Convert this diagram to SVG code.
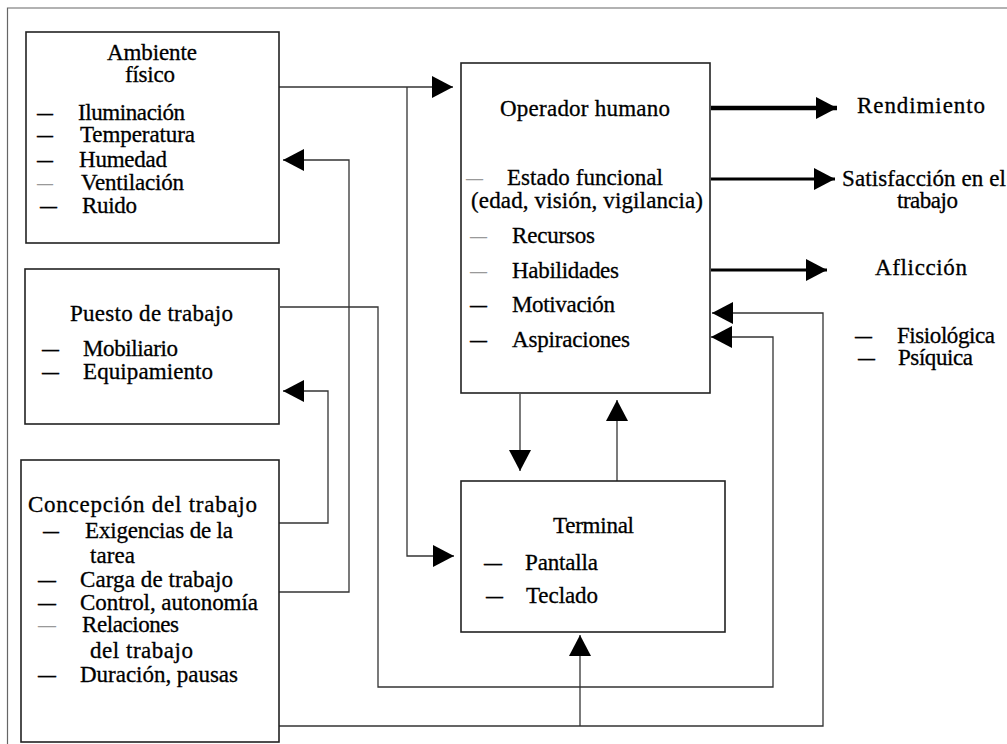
<svg xmlns="http://www.w3.org/2000/svg" width="1007" height="744" viewBox="0 0 1007 744">
  <defs>
    <marker id="head" markerUnits="userSpaceOnUse" viewBox="0 0 21 22" markerWidth="21" markerHeight="22" refX="21" refY="11" orient="auto">
      <path d="M0,0 L21,11 L0,22 Z" fill="#000"/>
    </marker>
    <style>
      text { font-family: "Liberation Serif", "Times New Roman", serif; font-size: 23px; fill: #000; stroke: #000; stroke-width: 0.3; }
      .box { fill: #fff; stroke: #222; stroke-width: 1.6; }
      .wire { fill: none; stroke: #333; stroke-width: 1.3; }
      .out { fill: none; stroke: #000; stroke-width: 3; }
      .thick { stroke-width: 4.5; }
      .frame { fill: none; stroke: #666; stroke-width: 1.2; }
      .light { fill: #999; stroke: none; }
    </style>
  </defs>

  <rect width="1007" height="744" fill="#fff"/>

  <!-- page frame -->
  <path class="frame" d="M7.5,744 V8 H1007"/>

  <!-- connectors -->
  <g id="connectors">
    <path class="wire" d="M279,87 H453" marker-end="url(#head)"/>
    <path class="wire" d="M407,87 V556 H454" marker-end="url(#head)"/>
    <path class="wire" d="M279,592 H349 V160 H283" marker-end="url(#head)"/>
    <path class="wire" d="M279,523 H328 V391 H283" marker-end="url(#head)"/>
    <path class="wire" d="M280,307 H378 V687 H773 V337 H711" marker-end="url(#head)"/>
    <path class="wire" d="M279,726 H823 V313 H712" marker-end="url(#head)"/>
    <path class="wire" d="M580,726 V635" marker-end="url(#head)"/>
    <path class="wire" d="M520,394 V471" marker-end="url(#head)"/>
    <path class="wire" d="M617,481 V400" marker-end="url(#head)"/>
    <path class="out thick" d="M711,108 H837" marker-end="url(#head)"/>
    <path class="out" d="M711,179 H835" marker-end="url(#head)"/>
    <path class="out" d="M711,270 H827" marker-end="url(#head)"/>
  </g>

  <!-- physical environment -->
  <g id="ambiente">
    <rect class="box" x="26" y="32" width="253" height="211"/>
    <text x="107" y="60" textLength="90">Ambiente</text>
    <text x="125" y="82" textLength="50">físico</text>
    <text x="37" y="120" textLength="16" lengthAdjust="spacingAndGlyphs">—</text>
    <text x="78" y="120" textLength="107">Iluminación</text>
    <text x="37" y="142" textLength="16" lengthAdjust="spacingAndGlyphs">—</text>
    <text x="80" y="142" textLength="115">Temperatura</text>
    <text x="37" y="167" textLength="16" lengthAdjust="spacingAndGlyphs">—</text>
    <text x="79" y="167" textLength="88">Humedad</text>
    <text class="light" x="37" y="190" textLength="16" lengthAdjust="spacingAndGlyphs">—</text>
    <text x="81" y="190" textLength="103">Ventilación</text>
    <text x="40" y="213" textLength="17" lengthAdjust="spacingAndGlyphs">—</text>
    <text x="82" y="213" textLength="55">Ruido</text>
  </g>

  <!-- workstation -->
  <g id="puesto">
    <rect class="box" x="25" y="269" width="254" height="155"/>
    <text x="70" y="321" textLength="163">Puesto de trabajo</text>
    <text x="42" y="356" textLength="17" lengthAdjust="spacingAndGlyphs">—</text>
    <text x="83" y="356" textLength="95">Mobiliario</text>
    <text x="42" y="379" textLength="17" lengthAdjust="spacingAndGlyphs">—</text>
    <text x="83" y="379" textLength="130">Equipamiento</text>
  </g>

  <!-- job design -->
  <g id="concepcion">
    <rect class="box" x="21" y="460" width="258" height="282"/>
    <text x="28" y="512" textLength="229">Concepción del trabajo</text>
    <text x="43" y="538" textLength="16" lengthAdjust="spacingAndGlyphs">—</text>
    <text x="85" y="538" textLength="148">Exigencias de la</text>
    <text x="90" y="563" textLength="45">tarea</text>
    <text x="38" y="587" textLength="18" lengthAdjust="spacingAndGlyphs">—</text>
    <text x="80" y="587" textLength="153">Carga de trabajo</text>
    <text x="38" y="610" textLength="18" lengthAdjust="spacingAndGlyphs">—</text>
    <text x="80" y="610" textLength="178">Control, autonomía</text>
    <text class="light" x="38" y="632" textLength="18" lengthAdjust="spacingAndGlyphs">—</text>
    <text x="82" y="632" textLength="97">Relaciones</text>
    <text x="90" y="658" textLength="103">del trabajo</text>
    <text x="38" y="682" textLength="18" lengthAdjust="spacingAndGlyphs">—</text>
    <text x="80" y="682" textLength="158">Duración, pausas</text>
  </g>

  <!-- human operator -->
  <g id="operador">
    <rect class="box" x="461" y="63" width="249" height="330"/>
    <text x="500" y="116" textLength="170">Operador humano</text>
    <text class="light" x="466" y="185" textLength="17" lengthAdjust="spacingAndGlyphs">—</text>
    <text x="507" y="185" textLength="156">Estado funcional</text>
    <text x="471" y="208" textLength="232">(edad, visión, vigilancia)</text>
    <text class="light" x="470" y="243" textLength="17" lengthAdjust="spacingAndGlyphs">—</text>
    <text x="512" y="243" textLength="83">Recursos</text>
    <text class="light" x="470" y="278" textLength="17" lengthAdjust="spacingAndGlyphs">—</text>
    <text x="512" y="278" textLength="107">Habilidades</text>
    <text x="470" y="312" textLength="17" lengthAdjust="spacingAndGlyphs">—</text>
    <text x="512" y="312" textLength="103">Motivación</text>
    <text x="470" y="347" textLength="17" lengthAdjust="spacingAndGlyphs">—</text>
    <text x="512" y="347" textLength="118">Aspiraciones</text>
  </g>

  <!-- terminal -->
  <g id="terminal">
    <rect class="box" x="461" y="481" width="264" height="151"/>
    <text x="553" y="533" textLength="81">Terminal</text>
    <text x="484" y="570" textLength="18" lengthAdjust="spacingAndGlyphs">—</text>
    <text x="525" y="570" textLength="73">Pantalla</text>
    <text x="486" y="603" textLength="17" lengthAdjust="spacingAndGlyphs">—</text>
    <text x="526" y="603" textLength="72">Teclado</text>
  </g>

  <!-- outcomes -->
  <g id="rendimiento">
    <text x="857" y="113" textLength="128">Rendimiento</text>
  </g>
  <g id="satisfaccion">
    <text x="842" y="186" textLength="164">Satisfacción en el</text>
    <text x="897" y="208" textLength="61">trabajo</text>
  </g>
  <g id="afliccion">
    <text x="875" y="275" textLength="92">Aflicción</text>
  </g>
  <g id="tipos-afliccion">
    <text x="855" y="343" textLength="17" lengthAdjust="spacingAndGlyphs">—</text>
    <text x="897" y="343" textLength="98">Fisiológica</text>
    <text x="858" y="365" textLength="17" lengthAdjust="spacingAndGlyphs">—</text>
    <text x="898" y="365" textLength="75">Psíquica</text>
  </g>
</svg>
